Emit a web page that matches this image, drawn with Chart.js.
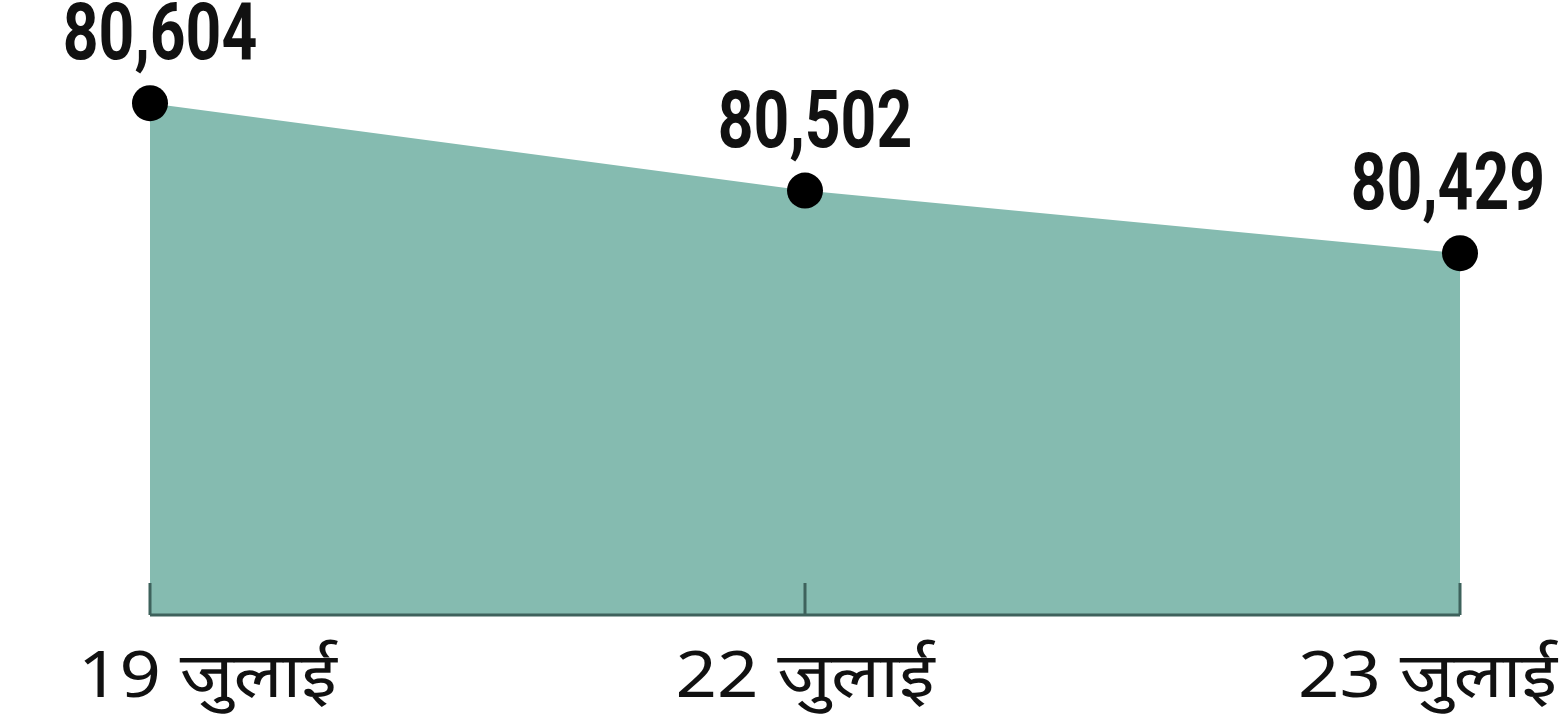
<!DOCTYPE html>
<html>
<head>
<meta charset="utf-8">
<script src="https://cdn.jsdelivr.net/npm/chart.js@4.4.1/dist/chart.umd.min.js"></script>
<style>
  html, body { margin: 0; padding: 0; background: #fff; }
  #wrap { width: 1565px; height: 721px; }
</style>
</head>
<body>
<div id="wrap"><canvas id="chart"></canvas></div>
<script>
// dates and values
const days = ['19 जुलाई', '22 जुलाई', '23 जुलाई'];
const counts = [80604, 80502, 80429];

// axis range used for the drawing
const yMin = 80007;
const yMax = 80701;

const fillColor = '#85bbb0';
const axisColor = '#3e625c';

// draw text squeezed/stretched horizontally, keeping it inside [minX, maxX]
function drawText(ctx, txt, cx, y, sx, minX, maxX) {
  const w = ctx.measureText(txt).width * sx;
  let left = cx - w / 2;
  left = Math.max(minX, Math.min(maxX - w, left));
  ctx.save();
  ctx.translate(left, y);
  ctx.scale(sx, 1);
  ctx.fillText(txt, 0, 0);
  ctx.restore();
}

// baseline, small upward ticks, day labels and value labels
const decorations = {
  id: 'decorations',
  afterDatasetsDraw(chart) {
    const ctx = chart.ctx;
    const x = chart.scales.x;
    const area = chart.chartArea;
    const W = chart.width;

    ctx.save();
    ctx.strokeStyle = axisColor;
    ctx.lineWidth = 3;
    ctx.beginPath();
    ctx.moveTo(area.left, area.bottom);
    ctx.lineTo(area.right, area.bottom);
    days.forEach((d, i) => {
      const px = x.getPixelForTick(i);
      ctx.moveTo(px, area.bottom);
      ctx.lineTo(px, area.bottom - 32);
    });
    ctx.stroke();

    ctx.fillStyle = '#111';
    ctx.textAlign = 'left';
    ctx.textBaseline = 'alphabetic';

    // day labels under the axis
    ctx.font = '63px "Noto Sans", sans-serif';
    days.forEach((d, i) => {
      drawText(ctx, d, x.getPixelForTick(i), area.bottom + 82, 1.15, 78, W - 8);
    });

    // value labels above the dots
    const meta = chart.getDatasetMeta(0);
    ctx.font = 'bold 80px Roboto, sans-serif';
    meta.data.forEach((pt, i) => {
      const txt = counts[i].toLocaleString('en-US');
      drawText(ctx, txt, pt.x + 10, pt.y - 44, 0.78, 20, W - 20);
    });
    ctx.restore();
  }
};

new Chart(document.getElementById('chart'), {
  type: 'line',
  data: {
    labels: days,
    datasets: [{
      data: counts,
      fill: 'start',
      backgroundColor: fillColor,
      borderWidth: 0,
      borderColor: fillColor,
      tension: 0,
      pointRadius: 18,
      pointBackgroundColor: '#000',
      pointBorderWidth: 0
    }]
  },
  options: {
    responsive: true,
    maintainAspectRatio: false,
    animation: false,
    layout: { padding: { left: 150, right: 105, top: 20, bottom: 106 } },
    plugins: {
      legend: { display: false },
      tooltip: { enabled: false }
    },
    scales: {
      x: {
        display: false,
        offset: false
      },
      y: {
        display: false,
        min: yMin,
        max: yMax
      }
    }
  },
  plugins: [decorations]
});
</script>
</body>
</html>
